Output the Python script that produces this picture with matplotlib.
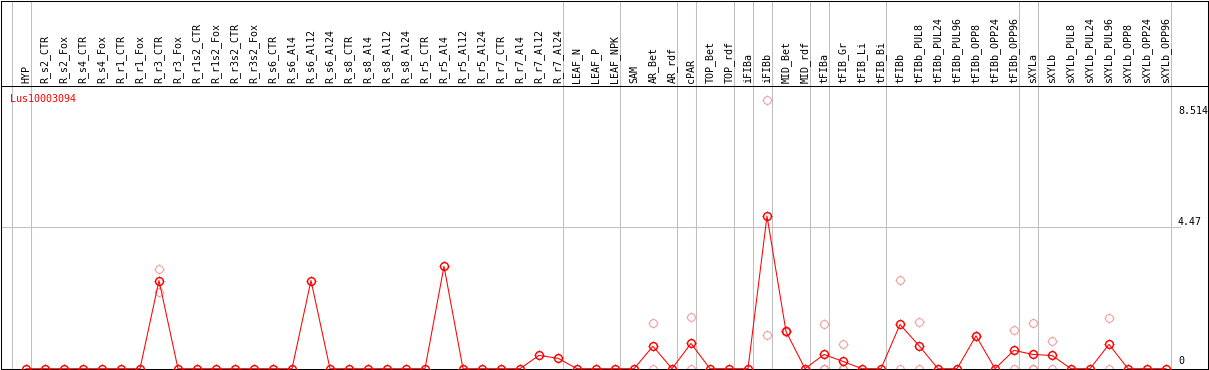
"""Expression profile of Lus10003094 across tissue / treatment samples."""

import matplotlib

matplotlib.use("Agg")
import matplotlib.pyplot as plt
import numpy as np
from matplotlib.path import Path
from matplotlib.transforms import blended_transform_factory

OUT_PNG = "out.png"

# Data
GENE = "Lus10003094"

SAMPLES = [
    "HYP",
    "R_s2_CTR", "R_s2_Fox", "R_s4_CTR", "R_s4_Fox", "R_r1_CTR", "R_r1_Fox",
    "R_r3_CTR", "R_r3_Fox", "R_r1s2_CTR", "R_r1s2_Fox", "R_r3s2_CTR", "R_r3s2_Fox",
    "R_s6_CTR", "R_s6_Al4", "R_s6_Al12", "R_s6_Al24",
    "R_s8_CTR", "R_s8_Al4", "R_s8_Al12", "R_s8_Al24",
    "R_r5_CTR", "R_r5_Al4", "R_r5_Al12", "R_r5_Al24",
    "R_r7_CTR", "R_r7_Al4", "R_r7_Al12", "R_r7_Al24",
    "LEAF_N", "LEAF_P", "LEAF_NPK",
    "SAM", "AR_Bet", "AR_rdf",
    "cPAR",
    "TOP_Bet", "TOP_rdf",
    "iFIBa",
    "iFIBb",
    "MID_Bet", "MID_rdf",
    "tFIBa",
    "tFIB_Gr", "tFIB_Li", "tFIB_Bi",
    "tFIBb", "tFIBb_PUL8", "tFIBb_PUL24", "tFIBb_PUL96",
    "tFIBb_OPP8", "tFIBb_OPP24", "tFIBb_OPP96",
    "sXYLa",
    "sXYLb", "sXYLb_PUL8", "sXYLb_PUL24", "sXYLb_PUL96",
    "sXYLb_OPP8", "sXYLb_OPP24", "sXYLb_OPP96",
]

# number of samples in each group (separated by grey lines)
GROUP_SIZES = [1, 28, 3, 3, 1, 2, 1, 1, 2, 1, 3, 7, 1, 7]

MEAN_EXPR = [
    0.0,
    0.0, 0.0, 0.0, 0.0, 0.0, 0.0,
    2.79, 0.0, 0.0, 0.0, 0.0, 0.0,
    0.0, 0.0, 2.79, 0.0,
    0.0, 0.0, 0.0, 0.0,
    0.0, 3.24, 0.0, 0.0,
    0.0, 0.0, 0.42, 0.33,
    0.0, 0.0, 0.0,
    0.0, 0.71, 0.0,
    0.80,
    0.0, 0.0,
    0.0,
    4.83,
    1.18, 0.0,
    0.45,
    0.23, 0.0, 0.0,
    1.40, 0.73, 0.0, 0.0,
    1.04, 0.0, 0.58,
    0.45,
    0.42, 0.0, 0.0, 0.77,
    0.0, 0.0, 0.0,
]

REP_SAMPLES = [
    "R_r3_CTR", "R_r3_CTR",
    "AR_Bet", "AR_Bet",
    "cPAR", "cPAR",
    "iFIBb", "iFIBb",
    "MID_Bet", "MID_Bet",
    "tFIBa", "tFIBa", "tFIBa",
    "tFIB_Gr", "tFIB_Gr", "tFIB_Gr",
    "tFIBb", "tFIBb",
    "tFIBb_PUL8", "tFIBb_PUL8",
    "tFIBb_OPP8",
    "tFIBb_OPP96", "tFIBb_OPP96",
    "sXYLa", "sXYLa", "sXYLa",
    "sXYLb", "sXYLb",
    "sXYLb_PUL96", "sXYLb_PUL96",
]
REP_VALUES = [
    3.14, 2.43,
    1.46, 0.0,
    1.65, 0.0,
    8.514, 1.08,
    1.20, 1.16,
    1.43, 0.0, 0.0,
    0.77, 0.0, 0.0,
    2.82, 0.0,
    1.49, 0.0,
    1.05,
    1.21, 0.0,
    1.46, 0.0, 0.0,
    0.87, 0.0,
    1.59, 0.0,
]

Y_LABEL_VALUES = [8.514, 4.47, 0.0]
Y_LABEL_TEXT = ["8.514", "4.47", "0"]

# Display configuration (pixel layout of the 1209x370 canvas)
W_PX, H_PX = 1209, 370
LEFT_PX, RIGHT_PX = 0.5, 1207.5
TOP_PX, HEADER_PX, ZERO_PX = 0.5, 85.5, 368.7
X0_PX, STEP_PX = 26.0, 19.0  # centre of first sample, spacing
PX_PER_UNIT = 31.6

RED = "#ff0000"
PALE = "#f29a9a"
GREY = "#c0c0c0"
FONT = "DejaVu Sans Mono"
FS = 7.2
LW = 0.75


def tick_marker() -> Path:
    """Four short stubs around a ring, like the original viewer."""
    return Path(
        [(0, 1.0), (0, 1.4), (0, -1.0), (0, -1.4), (1.0, 0), (1.4, 0), (-1.0, 0), (-1.4, 0)],
        [Path.MOVETO, Path.LINETO] * 4,
    )


def ring(ax, xs, ys, color, mew, z) -> None:
    ax.plot(xs, ys, ls="none", marker="o", ms=5.6, mfc="none", mec=color,
            mew=mew, clip_on=False, zorder=z)
    ax.plot(xs, ys, ls="none", marker=tick_marker(), ms=7.6, mec=color,
            mew=LW, clip_on=False, zorder=z)


def main() -> None:
    n = len(SAMPLES)
    x = np.arange(n)
    xlim = ((LEFT_PX - X0_PX) / STEP_PX, (RIGHT_PX - X0_PX) / STEP_PX)
    ytop = (ZERO_PX - HEADER_PX) / PX_PER_UNIT

    fig = plt.figure(figsize=(W_PX / 100, H_PX / 100), dpi=100)
    fig.patch.set_facecolor("white")

    left = LEFT_PX / W_PX
    width = (RIGHT_PX - LEFT_PX) / W_PX
    ax = fig.add_axes([left, (H_PX - ZERO_PX) / H_PX, width, (ZERO_PX - HEADER_PX) / H_PX])
    hx = fig.add_axes([left, (H_PX - HEADER_PX) / H_PX, width, (HEADER_PX - TOP_PX) / H_PX])

    for a in (ax, hx):
        a.set_xlim(*xlim)
        a.set_xticks([])
        a.set_yticks([])
        for sp in a.spines.values():
            sp.set_color("black")
            sp.set_linewidth(LW)
    ax.set_ylim(0, ytop)
    hx.set_ylim(0, 1)
    hx.spines["bottom"].set_visible(False)

    # group separators
    bounds = np.concatenate([[0], np.cumsum(GROUP_SIZES)]) - 0.74
    for b in bounds:
        ax.axvline(b, color=GREY, lw=LW, zorder=0)
        hx.axvline(b, color=GREY, lw=LW, zorder=0)

    # sample labels in the header
    for xi, name in zip(x, SAMPLES):
        hx.text(xi, 0.035, name, rotation=90, ha="center", va="bottom",
                family=FONT, fontsize=FS, color="black")

    # horizontal guide and value labels on the right
    label_x = (1178 - LEFT_PX) / (RIGHT_PX - LEFT_PX)
    ax.axhline(4.47, xmax=(1180 - LEFT_PX) / (RIGHT_PX - LEFT_PX), color=GREY, lw=LW, zorder=0)
    trans = blended_transform_factory(ax.transAxes, ax.transData)
    offsets = [-4.5, 0.0, 2.0]
    aligns = ["top", "bottom", "bottom"]
    for val, txt, off, va in zip(Y_LABEL_VALUES, Y_LABEL_TEXT, offsets, aligns):
        ax.annotate(txt, xy=(label_x, val), xycoords=trans, xytext=(0, off),
                    textcoords="offset points", ha="left", va=va,
                    family=FONT, fontsize=FS, color="black")

    ax.text((10 - LEFT_PX) / (RIGHT_PX - LEFT_PX), 1 - 8.5 / (ZERO_PX - HEADER_PX), GENE,
            transform=ax.transAxes, ha="left", va="top",
            family=FONT, fontsize=FS, color=RED)

    rep_x = [SAMPLES.index(s) for s in REP_SAMPLES]
    ring(ax, rep_x, REP_VALUES, PALE, LW, 2)
    ax.plot(x, MEAN_EXPR, color=RED, lw=LW, zorder=3, clip_on=False)
    ring(ax, x, MEAN_EXPR, RED, LW * 1.4, 4)

    fig.savefig(OUT_PNG, dpi=100)
    plt.close(fig)


if __name__ == "__main__":
    main()
